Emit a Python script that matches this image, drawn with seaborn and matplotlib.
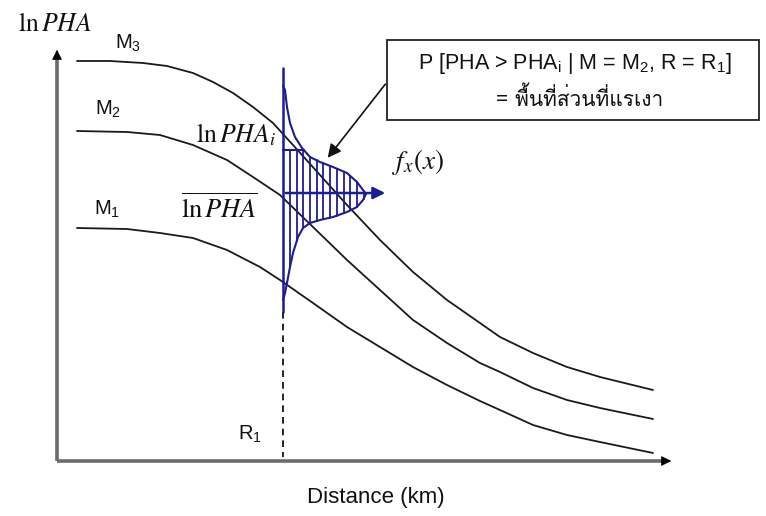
import numpy as np
import pandas as pd
import seaborn as sns
import matplotlib.pyplot as plt
from matplotlib import font_manager
from matplotlib.ft2font import FT2Font
from matplotlib.patches import Rectangle

# curves (x = distance, y = screen height, top = 0)
m3_x = [77, 110, 143, 167, 193, 213, 233, 253, 273, 293, 320, 347, 380, 413, 447, 480, 500, 533, 567, 600, 653]
m3_y = [61, 61, 63, 66, 73, 82, 93, 107, 123, 145, 175, 205, 240, 272, 300, 323, 337, 353, 367, 377, 390]
m2_x = [77, 127, 160, 193, 227, 253, 280, 313, 347, 380, 413, 447, 480, 500, 533, 567, 600, 653]
m2_y = [131, 132, 135, 145, 160, 177, 195, 227, 260, 290, 320, 343, 363, 372, 388, 400, 408, 419]
m1_x = [77, 127, 160, 193, 227, 260, 280, 313, 347, 380, 413, 447, 480, 500, 533, 567, 600, 653]
m1_y = [228, 229, 233, 238, 250, 267, 280, 303, 327, 347, 367, 385, 401, 410, 425, 435, 442, 453]
curve_names = ["M$_3$", "M$_2$", "M$_1$"]

# distribution f_x(x) drawn sideways at R1
r1_x = 283
bell_y = [86, 90, 107, 123, 137, 148, 157, 162, 167, 173, 182, 190, 194, 200, 207, 212,
          217, 220, 223, 228, 237, 253, 267, 283, 293, 300]
bell_x = [283, 285, 287, 290, 295, 302, 310, 320, 333, 347, 357, 363, 366, 363, 357, 347,
          333, 320, 310, 303, 298, 293, 290, 287, 285, 283]
pha_i_y = 150
pha_mean_y = 193


def thai_font():
    # find any installed font that carries Thai glyphs
    for f in font_manager.fontManager.ttflist:
        try:
            if FT2Font(f.fname).get_char_index(0x0E1E):
                return f.name
        except Exception:
            pass
    return "DejaVu Sans"


sns.set_theme(style="white")
plt.rcParams["font.family"] = ["Liberation Sans", "DejaVu Sans"]
plt.rcParams["mathtext.fontset"] = "custom"
plt.rcParams["mathtext.rm"] = "Liberation Sans"
plt.rcParams["mathtext.it"] = "Liberation Sans:italic"

fig = plt.figure(figsize=(7.66, 5.16), dpi=100)
ax = fig.add_axes([0, 0, 1, 1])

# attenuation curves
df = pd.concat([
    pd.DataFrame({"x": m3_x, "y": m3_y, "M": curve_names[0]}),
    pd.DataFrame({"x": m2_x, "y": m2_y, "M": curve_names[1]}),
    pd.DataFrame({"x": m1_x, "y": m1_y, "M": curve_names[2]}),
])
sns.lineplot(data=df, x="x", y="y", units="M", estimator=None, sort=False,
             color="#1a1a1a", lw=1.3, ax=ax, legend=False)
ax.set_xlim(0, 766)
ax.set_ylim(516, 0)
ax.axis("off")

# axes with arrows
ax.plot([57, 57], [461, 58], color="#6b6b6b", lw=2.6, solid_capstyle="butt")
ax.plot([57, 662], [461, 461], color="#6b6b6b", lw=2.6, solid_capstyle="butt")
ax.annotate("", xy=(57, 47), xytext=(57, 62),
            arrowprops=dict(arrowstyle="-|>", color="black", lw=0.5, mutation_scale=16))
ax.annotate("", xy=(674, 461), xytext=(659, 461),
            arrowprops=dict(arrowstyle="-|>", color="black", lw=0.5, mutation_scale=16))

# dashed line down to R1
ax.plot([r1_x, r1_x], [312, 457], color="black", lw=1.2, ls=(0, (4, 3)))

# distribution
blue = "#1c1c96"
ax.plot([r1_x, r1_x], [68, 312], color=blue, lw=1.8)
ax.plot(bell_x, bell_y, color=blue, lw=1.5)
ax.annotate("", xy=(388, pha_mean_y), xytext=(r1_x, pha_mean_y),
            arrowprops=dict(arrowstyle="-|>", color=blue, lw=1.8, mutation_scale=18))

bx = np.array(bell_x, dtype=float)
by = np.array(bell_y, dtype=float)
peak = int(np.argmax(bx))
up_x, up_y = bx[:peak + 1], by[:peak + 1]
lo_x, lo_y = bx[peak:][::-1], by[peak:][::-1]
edge_x = np.interp(pha_i_y, up_y, up_x)
ax.plot([r1_x, edge_x], [pha_i_y, pha_i_y], color=blue, lw=1.5)
for xh in np.arange(r1_x + 7, bx.max() - 1, 6.7):
    top = max(pha_i_y, np.interp(xh, up_x, up_y))
    bot = np.interp(xh, lo_x, lo_y)
    ax.plot([xh, xh], [top, bot], color=blue, lw=1.3)

# labels
serif_kw = dict(math_fontfamily="stix", color="#111111", ha="center", va="center")
ax.text(55, 24, r"$\mathrm{ln}\,PHA$", fontsize=18.5, **serif_kw)
ax.text(236, 135, r"$\mathrm{ln}\,PHA_i$", fontsize=18.5, **serif_kw)
ax.text(219, 208, r"$\overline{\mathrm{ln}\,PHA}$", fontsize=19, **serif_kw)
ax.text(418, 162, r"$f_x(x)$", fontsize=19.5, **serif_kw)

for name, lx, ly in zip(curve_names, [128, 108, 107], [43, 109, 209]):
    ax.text(lx, ly, name, fontsize=14.5, ha="center", va="center", color="#111111")
ax.text(250, 434, "R$_1$", fontsize=14.5, ha="center", va="center", color="#111111")
ax.text(376, 498, "Distance (km)", fontsize=16, ha="center", va="center", color="#111111")

# callout box
ax.add_patch(Rectangle((387, 40), 372, 80, facecolor="white", edgecolor="#222222", lw=1.3))
ax.text(575, 63, "P [PHA > PHA$_\\mathrm{i}$ | M = M$_2$, R = R$_1$]", fontsize=15.5,
        ha="center", va="center", color="#111111")
ax.text(580, 98, "= พื้นที่ส่วนที่แรเงา", fontsize=15, ha="center", va="center",
        color="#111111", family=[thai_font(), "Liberation Sans", "DejaVu Sans"])
ax.annotate("", xy=(326, 160), xytext=(387, 82),
            arrowprops=dict(arrowstyle="-|>", color="#111111", lw=1.2, mutation_scale=20))

fig.savefig("out.png", dpi=100)
